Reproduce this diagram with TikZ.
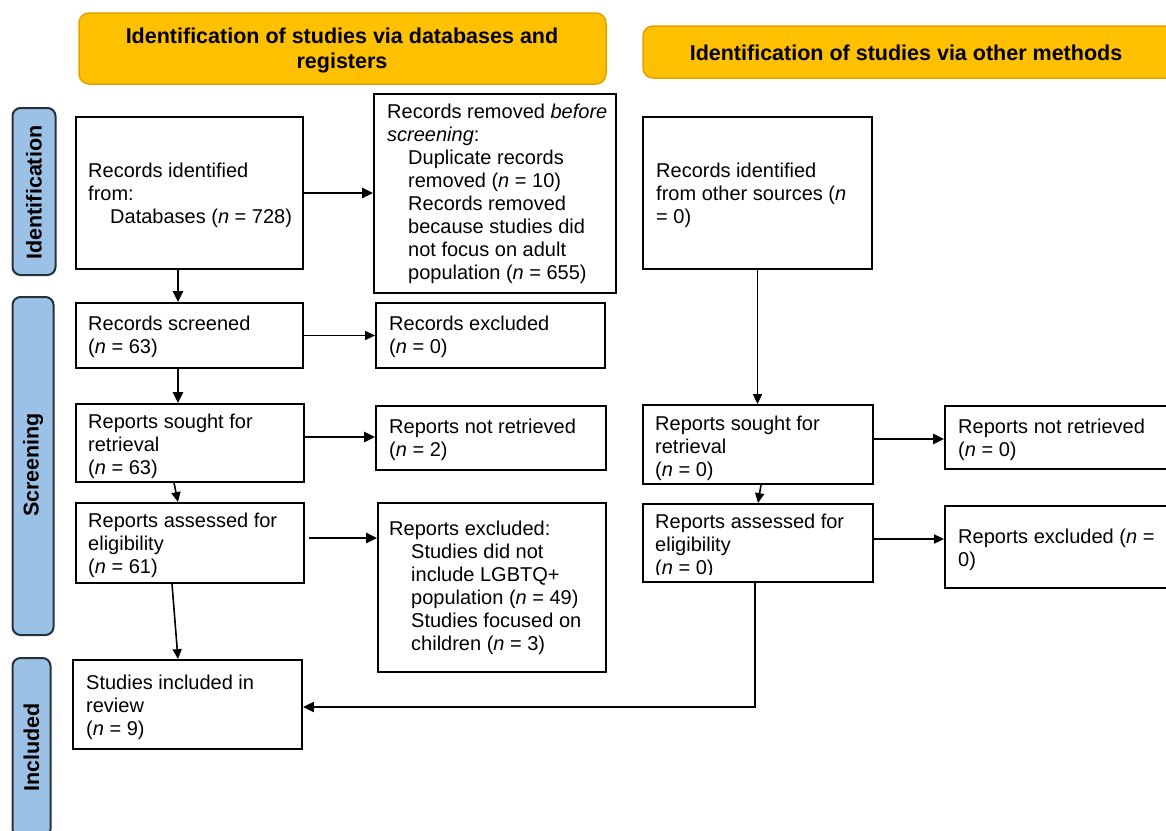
\documentclass[tikz,border=0pt]{standalone}
\usepackage{fontspec}
\setmainfont{Liberation Sans}
\usetikzlibrary{arrows.meta}
\definecolor{hdrfill}{RGB}{255,192,0}
\definecolor{hdrline}{RGB}{228,162,0}
\definecolor{barfill}{RGB}{155,194,230}
\definecolor{barline}{RGB}{40,48,58}
\begin{document}
\begin{tikzpicture}[x=1pt,y=-1pt,
  box/.style={draw=black, line width=1.8pt, rectangle, inner sep=0pt, fill=white},
  txt/.style={anchor=north west, inner sep=0pt, align=left, font=\fontsize{20}{23}\selectfont},
  hdr/.style={draw=hdrline, line width=1.5pt, fill=hdrfill, rounded corners=10pt, inner sep=0pt},
  hdrtxt/.style={font=\fontsize{21.5}{25}\selectfont\bfseries, align=center, inner sep=0pt},
  bar/.style={draw=barline, line width=2pt, fill=barfill, rounded corners=8pt, inner sep=0pt},
  bartxt/.style={font=\fontsize{21.5}{25}\selectfont\bfseries, rotate=90, inner sep=0pt},
  thk/.style={line width=2.6pt, -{Triangle[length=11pt,width=10pt]}},
  thn/.style={line width=1.6pt, -{Triangle[length=10pt,width=9pt]}}
]
\useasboundingbox (0,0) rectangle (1166,830);
\clip (0,0) rectangle (1166,830);
\fill[white] (0,0) rectangle (1166,830);

% headers
\node[hdr, minimum width=527pt, minimum height=71pt] (h1) at (342.5,48.5) {};
\node[hdrtxt, anchor=north] (h1t) at (342,25.5) {\strut Identification of studies via databases and\\registers};
\node[hdr, minimum width=537pt, minimum height=52pt] (h2) at (911.5,52) {};
\node[hdrtxt, anchor=base] (h2t) at (906,60) {Identification of studies via other methods};

% side bars
\node[bar, minimum width=43pt, minimum height=167pt] (bid) at (34,191.5) {};
\node[bartxt] (bidt) at (34,192.5) {Identification};
\node[bar, minimum width=41pt, minimum height=338pt] (bscr) at (33,466) {};
\node[bartxt] (bscrt) at (33,465) {Screening};
\node[bar, minimum width=38pt, minimum height=179pt] (binc) at (31.5,747.5) {};
\node[bartxt] (binct) at (31.5,747.5) {Included};

% boxes
\node[box, minimum width=227pt, minimum height=152pt] (b1) at (189.5,193) {};
\node[box, minimum width=242pt, minimum height=199pt] (b2) at (495,193.5) {};
\node[box, minimum width=229pt, minimum height=152pt] (b3) at (757.5,193) {};
\node[box, minimum width=227pt, minimum height=65pt] (scr) at (189.5,335.5) {};
\node[box, minimum width=229pt, minimum height=65pt] (exc) at (490.5,335.5) {};
\node[box, minimum width=228pt, minimum height=78pt] (sought) at (190,443) {};
\node[box, minimum width=230pt, minimum height=64pt] (notret) at (491,438) {};
\node[box, minimum width=228pt, minimum height=80pt] (assess) at (190,543) {};
\node[box, minimum width=228pt, minimum height=169pt] (repexc) at (492,587.5) {};
\node[box, minimum width=229pt, minimum height=89pt] (incl) at (187.5,704.5) {};
\node[box, minimum width=230pt, minimum height=79pt] (rsought) at (758,444.5) {};
\node[box, minimum width=235pt, minimum height=63pt] (rnotret) at (1062.5,437.5) {};
\node[box, minimum width=230pt, minimum height=78pt] (rassess) at (758,543) {};
\node[box, minimum width=235pt, minimum height=82pt] (rexc) at (1062.5,547) {};

% texts
\node[txt] (t1) at (88,160.9) {\strut Records identified\\from:\\\hspace{22pt}Databases (\textit{n} = 728)};
\node[txt] (t2) at (387,101.9) {\strut Records removed \textit{before}\\\textit{screening}:\\\hspace{21pt}Duplicate records\\\hspace{21pt}removed (\textit{n} = 10)\\\hspace{21pt}Records removed\\\hspace{21pt}because studies did\\\hspace{21pt}not focus on adult\\\hspace{21pt}population (\textit{n} = 655)};
\node[txt] (t3) at (656,160.9) {\strut Records identified\\from other sources (\textit{n}\\= 0)};
\node[txt] (tscr) at (88,313.9) {\strut Records screened\\(\textit{n} = 63)};
\node[txt] (texc) at (389,313.9) {\strut Records excluded\\(\textit{n} = 0)};
\node[txt] (tsought) at (88,411.9) {\strut Reports sought for\\retrieval\\(\textit{n} = 63)};
\node[txt] (tnotret) at (389,416.9) {\strut Reports not retrieved\\(\textit{n} = 2)};
\node[txt] (tassess) at (88,510.9) {\strut Reports assessed for\\eligibility\\(\textit{n} = 61)};
\node[txt] (trepexc) at (389,518.9) {\strut Reports excluded:\\\hspace{22pt}Studies did not\\\hspace{22pt}include LGBTQ+\\\hspace{22pt}population (\textit{n} = 49)\\\hspace{22pt}Studies focused on\\\hspace{22pt}children (\textit{n} = 3)};
\node[txt] (tincl) at (86,672.9) {\strut Studies included in\\review\\(\textit{n} = 9)};
\node[txt] (trsought) at (655,413.9) {\strut Reports sought for\\retrieval\\(\textit{n} = 0)};
\node[txt] (trnotret) at (958,416.9) {\strut Reports not retrieved\\(\textit{n} = 0)};
\begin{scope}
\clip (644,505) rectangle (872,574);
\node[txt] (trassess) at (655,511.9) {\strut Reports assessed for\\eligibility\\(\textit{n} = 0)};
\end{scope}
\node[txt] (trexc) at (958,526.9) {\strut Reports excluded (\textit{n} =\\0)};

% connectors
\draw[thk] (b1.east) -- (b1.east -| b2.west);
\draw[thk] ([xshift=-11.5pt]b1.south) -- ([xshift=-11.5pt]b1.south |- scr.north);
\draw[thn] (scr.east) -- (scr.east -| exc.west);
\draw[thk] ([xshift=-11.5pt]scr.south) -- ([xshift=-11.5pt]scr.south |- sought.north);
\draw[thk] ([yshift=6pt]sought.east) -- ([yshift=6pt]sought.east -| notret.west);
\draw[thn] ([xshift=-16pt]sought.south) -- ([xshift=-12pt]assess.north);
\draw[thk] ([xshift=4pt,yshift=5pt]assess.east) -- ([yshift=5pt]assess.east -| repexc.west);
\draw[thn] ([xshift=-18pt]assess.south) -- ([xshift=-9.5pt]incl.north);
\draw[thn] (b3.south) -- (b3.south |- rsought.north);
\draw[thk] ([yshift=5.5pt]rsought.east) -- ([yshift=5.5pt]rsought.east -| rnotret.west);
\draw[thn] ([xshift=3pt]rsought.south) -- (rassess.north);
\draw[thn] ([yshift=4pt]rassess.east) -- ([yshift=4pt]rassess.east -| rexc.west);
\draw[line width=2pt, -{Triangle[length=11pt,width=10pt]}] ([xshift=-3pt]rassess.south) |- ([yshift=-2.5pt]incl.east);
\end{tikzpicture}
\end{document}
